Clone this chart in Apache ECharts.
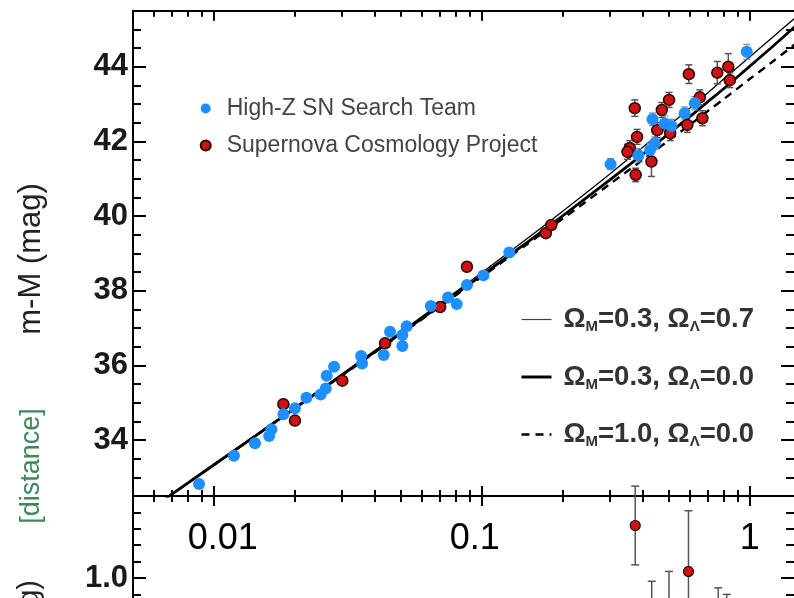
<!DOCTYPE html>
<html><head><meta charset="utf-8">
<script src="https://cdn.jsdelivr.net/npm/echarts@6/dist/echarts.min.js"></script>
<style>html,body{margin:0;padding:0;background:#fff}#c{width:794px;height:598px}</style>
</head><body><div id="c"></div>
<script>
// ---- data ----
const zBlue   = [0.00882,0.0119,0.01426,0.0161,0.01642,0.0182,0.0201,0.0222,0.02506,0.0262,0.02641,0.02813,0.0355,0.0358,0.0431,0.0455,0.0506,0.0525,0.0506,0.0646,0.0749,0.0807,0.0881,0.1015,0.1268,
                 0.3027,0.3844,0.4250,0.4425,0.4339,0.4819,0.5105,0.5720,0.6237,0.975];
const muBlue  = [32.82,33.58,33.91,34.11,34.29,34.69,34.85,35.13,35.22,35.38,35.72,35.96,36.25,36.05,36.28,36.90,36.81,37.05,36.52,37.59,37.82,37.64,38.15,38.41,39.02,
                 41.39,41.63,41.77,41.95,42.59,42.48,42.41,42.75,43.02,44.40];
const errBlue = [0.08,0.08,0.10,0.08,0.08,0.08,0.08,0.07,0.08,0.07,0.07,0.08,0.08,0.08,0.07,0.08,0.08,0.07,0.08,0.06,0.06,0.07,0.06,0.06,0.05,
                 0.15,0.18,0.18,0.17,0.17,0.20,0.18,0.17,0.18,0.20];
const zRed    = [0.0182,0.0201,0.0302,0.0436,0.0700,0.0881,0.1735,0.1819,
                 0.3725,0.3755,0.357,0.430,0.5003,0.5929,0.6517,0.666,0.585,0.505,0.452,0.757,0.832,0.843,0.470,0.350,0.380];
const muRed   = [34.96,34.52,35.59,36.59,37.56,38.64,39.54,39.76,
                 42.89,41.10,41.82,41.46,43.11,43.80,43.18,42.62,42.44,42.22,42.30,43.84,44.00,43.64,42.84,41.72,42.12];
const errRed  = [0.12,0.10,0.08,0.08,0.07,0.08,0.08,0.08,
                 0.22,0.18,0.20,0.40,0.20,0.25,0.20,0.20,0.20,0.20,0.20,0.30,0.35,0.20,0.20,0.20,0.20];
// model curves
const zModel   = [0.005,0.01,0.02,0.03,0.05,0.07,0.1,0.15,0.2,0.3,0.4,0.5,0.6,0.7,0.8,1.0,1.2,1.5];
const muLambda = [31.82,33.34,34.86,35.76,36.90,37.66,38.48,39.43,40.12,41.12,41.85,42.42,42.90,43.31,43.67,44.26,44.75,45.35];
const muOpen   = [31.82,33.33,34.84,35.73,36.86,37.61,38.41,39.33,40.00,40.96,41.66,42.21,42.67,43.07,43.41,44.01,44.50,45.12];
const muFlat   = [31.82,33.33,34.84,35.72,36.84,37.58,38.37,39.28,39.92,40.85,41.51,42.03,42.45,42.82,43.13,43.67,44.10,44.64];
// residual panel (only the top part is visible)
const zRes   = [0.374,0.591,0.431,0.500,0.763,0.821];
const resRed = [1.32,1.04,0.78,0.74,0.69,0.70];
const errRes = [0.24,0.37,0.20,0.30,0.25,0.20];
// ticks and labels
const xMajorTicks = [0.01,0.1,1];
const xTickLabels = ['0.01','0.1','1'];
const xMinorTicks = [0.006,0.007,0.008,0.009,0.02,0.03,0.04,0.05,0.06,0.07,0.08,0.09,0.2,0.3,0.4,0.5,0.6,0.7,0.8,0.9];
const yMajorTicks = [34,36,38,40,42,44];
const yMinorTicks = [33,33.5,34.5,35,35.5,36.5,37,37.5,38.5,39,39.5,40.5,41,41.5,42.5,43,43.5,44.5,45];
const resMajorTicks = [1.0];
const resMinorTicks = [0.9,1.1,1.2,1.3,1.4];
const seriesNames = ['High-Z SN Search Team','Supernova Cosmology Project'];
const modelNames = ['ΩM=0.3, ΩΛ=0.7','ΩM=0.3, ΩΛ=0.0','ΩM=1.0, ΩΛ=0.0'];
const modelRich  = ['{o|Ω}{s|M}{o|=0.3, Ω}{s|Λ}{o|=0.7}','{o|Ω}{s|M}{o|=0.3, Ω}{s|Λ}{o|=0.0}','{o|Ω}{s|M}{o|=1.0, Ω}{s|Λ}{o|=0.0}'];

const FONT = "'Liberation Sans', Arial, Helvetica, sans-serif";
const BLUE = '#1f8fff', RED = '#cc1414';
const chart = echarts.init(document.getElementById('c'), null, {renderer:'canvas'});

const X_MIN = 0.005, X_MAX = 1.4633;
const G_UP = {left:133, top:10.7, width:661, height:485.3};
const G_LO = {left:133, top:496, width:661, height:102};

const modelLine = [
  {color:'#000', width:1.3},
  {color:'#000', width:3},
  {color:'#000', width:2.4, type:[8,6]}
];

function xAx(grid, pos, ticks, len, showLine, labels){
  return {type:'log', gridIndex:grid, position:pos, min:X_MIN, max:X_MAX,
    axisLine:{show:showLine, onZero:false, lineStyle:{color:'#000', width:2}},
    axisTick:{show:true, inside:true, length:len, customValues:ticks, lineStyle:{color:'#000', width:2}},
    axisLabel: labels ? {show:true, customValues:xMajorTicks, margin:25, fontSize:36, color:'#000', fontFamily:FONT,
        rich:{l0:{fontSize:36, padding:[0,0,0,18]}, l1:{fontSize:36, padding:[0,14,0,0]}, l2:{fontSize:36, padding:[0,0,0,0]}},
        formatter:(v)=>{ let best=0; xMajorTicks.forEach((t,i)=>{ if(Math.abs(Math.log10(v)-Math.log10(t))<Math.abs(Math.log10(v)-Math.log10(xMajorTicks[best]))) best=i;}); return '{l'+best+'|'+xTickLabels[best]+'}'; }}
      : {show:false},
    splitLine:{show:false}, minorSplitLine:{show:false}};
}
function yAx(grid, pos, min, max, ticks, len, showLine, labelVals, fmt){
  return {type:'value', gridIndex:grid, position:pos, min:min, max:max,
    axisLine:{show:showLine, onZero:false, lineStyle:{color:'#000', width:2}},
    axisTick:{show:true, inside:true, length:len, customValues:ticks, lineStyle:{color:'#000', width:2}},
    axisLabel: labelVals ? {show:true, customValues:labelVals, margin:5, fontSize:31, fontWeight:'bold', color:'#1a1a1a', fontFamily:FONT, formatter:fmt}
      : {show:false},
    splitLine:{show:false}};
}

function errRender(color, capW, lw){
  return function(params, api){
    const x = api.value(0), lo = api.value(1), hi = api.value(2);
    const p1 = api.coord([x, lo]), p2 = api.coord([x, hi]);
    const st = {stroke:color, lineWidth:lw};
    return {type:'group', children:[
      {type:'line', shape:{x1:p1[0], y1:p1[1], x2:p2[0], y2:p2[1]}, style:st},
      {type:'line', shape:{x1:p1[0]-capW, y1:p1[1], x2:p1[0]+capW, y2:p1[1]}, style:st},
      {type:'line', shape:{x1:p2[0]-capW, y1:p2[1], x2:p2[0]+capW, y2:p2[1]}, style:st}
    ]};
  };
}

const option = {
  backgroundColor:'#fff',
  animation:false,
  grid:[G_UP, G_UP, G_LO, G_LO],
  xAxis:[
    xAx(0,'bottom',xMajorTicks,10,true,true),
    xAx(0,'top',xMajorTicks,10,true,false),
    xAx(1,'bottom',xMinorTicks,6,false,false),
    xAx(1,'top',xMinorTicks,6,false,false),
    xAx(2,'top',xMajorTicks,10,true,false),
    xAx(3,'top',xMinorTicks,6,false,false)
  ],
  yAxis:[
    yAx(0,'left',32.5,45.5,yMajorTicks,13,true,yMajorTicks,(v)=>String(v)),
    yAx(0,'right',32.5,45.5,yMajorTicks,13,false,null),
    yAx(1,'left',32.5,45.5,yMinorTicks,8,false,null),
    yAx(1,'right',32.5,45.5,yMinorTicks,8,false,null),
    yAx(2,'left',0.878,1.5,resMajorTicks,13,true,resMajorTicks,(v)=>v.toFixed(1)),
    yAx(2,'right',0.878,1.5,resMajorTicks,13,false,null),
    yAx(3,'left',0.878,1.5,resMinorTicks,8,false,null),
    yAx(3,'right',0.878,1.5,resMinorTicks,8,false,null)
  ],
  legend:[
    {data:seriesNames, orient:'vertical', left:199.7, top:97, padding:0, itemWidth:22, itemHeight:10, itemGap:14,
     selectedMode:false, textStyle:{fontSize:23, color:'#444', fontFamily:FONT, padding:[0,0,0,5]}},
    {data:modelNames.map((n,i)=>({name:n, lineStyle:{color:modelLine[i].color, width:i===0?1.2:modelLine[i].width, type:modelLine[i].type||'solid', opacity:i===0?0.75:1}})),
     orient:'vertical', left:520, top:305.5, padding:0, itemWidth:30, itemHeight:14, itemGap:28.5,
     selectedMode:false, itemStyle:{opacity:0},
     formatter:(n)=>modelRich[modelNames.indexOf(n)],
     textStyle:{fontFamily:FONT, padding:[0,0,0,7], rich:{
       o:{fontSize:27.5, fontWeight:'bold', color:'#333', fontFamily:FONT, lineHeight:30},
       s:{fontSize:15, fontWeight:'bold', color:'#333', fontFamily:FONT, lineHeight:15, verticalAlign:'bottom'}}}}
  ],
  graphic:[
    {type:'text', x:31.5, y:259, rotation:Math.PI/2, style:{text:'m-M (mag)', font:'31px '+FONT, fill:'#222', align:'center', verticalAlign:'middle'}},
    {type:'text', x:31.5, y:466, rotation:Math.PI/2, style:{text:'[distance]', font:'27px '+FONT, fill:'#3c8a5c', align:'center', verticalAlign:'middle'}},
    {type:'text', x:30, y:580, rotation:Math.PI/2, style:{text:'Δ(m-M) (mag)', font:'29px '+FONT, fill:'#222', align:'right', verticalAlign:'middle'}}
  ],
  series:[
    {name:modelNames[0], type:'line', xAxisIndex:0, yAxisIndex:0, data:zModel.map((z,i)=>[z,muLambda[i]]), symbol:'none', smooth:0.3, z:1,
     lineStyle:modelLine[0], itemStyle:{color:'#000'}},
    {name:modelNames[1], type:'line', xAxisIndex:0, yAxisIndex:0, data:zModel.map((z,i)=>[z,muOpen[i]]), symbol:'none', smooth:0.3, z:1,
     lineStyle:{color:'#000', width:2.8}, itemStyle:{color:'#000'}},
    {name:modelNames[2], type:'line', xAxisIndex:0, yAxisIndex:0, data:zModel.map((z,i)=>[z,muFlat[i]]), symbol:'none', smooth:0.3, z:1,
     lineStyle:modelLine[2], itemStyle:{color:'#000'}},
    {type:'custom', xAxisIndex:0, yAxisIndex:0, renderItem:errRender('#555',3.5,1.5), z:2, silent:true,
     data:zRed.map((z,i)=>[z, muRed[i]-errRed[i], muRed[i]+errRed[i]]), encode:{x:0, y:[1,2]}},
    {type:'custom', xAxisIndex:0, yAxisIndex:0, renderItem:errRender('#888',3.5,1.2), z:2, silent:true,
     data:zBlue.map((z,i)=>[z, muBlue[i]-errBlue[i], muBlue[i]+errBlue[i]]), encode:{x:0, y:[1,2]}},
    {name:seriesNames[1], type:'scatter', xAxisIndex:0, yAxisIndex:0, data:zRed.map((z,i)=>[z,muRed[i]]), symbol:'circle', symbolSize:11, z:3,
     itemStyle:{color:RED, borderColor:'#2a0000', borderWidth:1.5, opacity:1}},
    {name:seriesNames[0], type:'scatter', xAxisIndex:0, yAxisIndex:0, data:zBlue.map((z,i)=>[z,muBlue[i]]), symbol:'circle', symbolSize:12, z:4,
     itemStyle:{color:BLUE, opacity:1}},
    {type:'custom', xAxisIndex:4, yAxisIndex:4, renderItem:errRender('#555',4,1.5), z:2, silent:true, clip:false,
     data:zRes.map((z,i)=>[z, resRed[i]-errRes[i], resRed[i]+errRes[i]]), encode:{x:0, y:[1,2]}},
    {name:'residuals', type:'scatter', xAxisIndex:4, yAxisIndex:4, data:zRes.map((z,i)=>[z,resRed[i]]), symbol:'circle', symbolSize:10, z:3, clip:false,
     itemStyle:{color:RED, borderColor:'#2a0000', borderWidth:1.2, opacity:1}}
  ]
};
chart.setOption(option);
</script></body></html>
